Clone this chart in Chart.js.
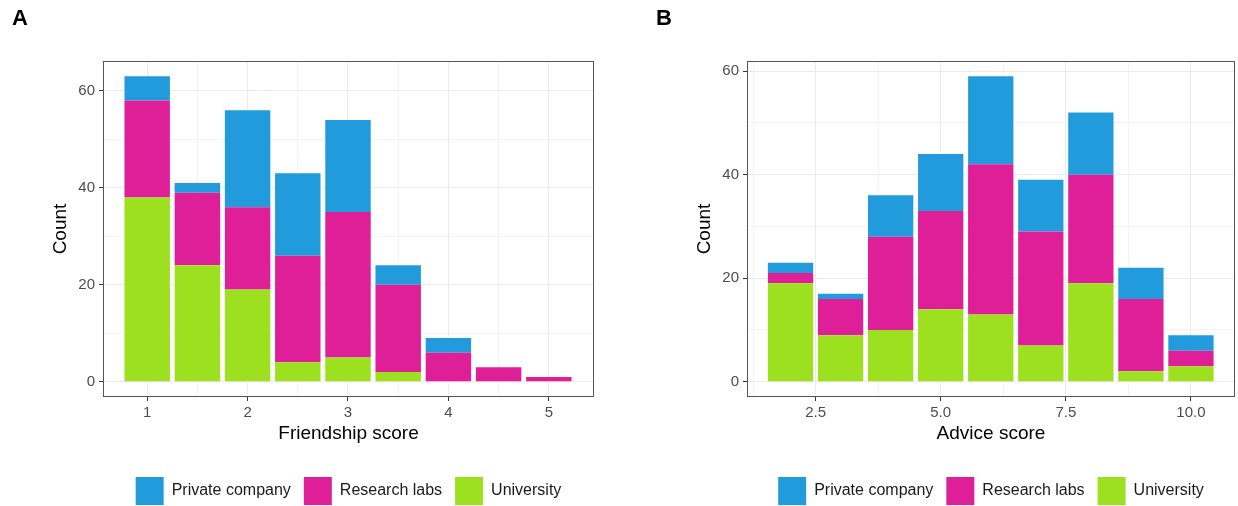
<!DOCTYPE html>
<html>
<head>
<meta charset="utf-8">
<script src="https://cdn.jsdelivr.net/npm/chart.js@4.4.0/dist/chart.umd.min.js"></script>
<style>
html, body { margin: 0; padding: 0; background: #fff; overflow: hidden; }
#quadro { position: relative; width: 1238px; height: 506px; overflow: hidden; }
canvas { position: absolute; top: 0; }
</style>
</head>
<body>
<div id="quadro">
    <canvas id="painel_a" width="619" height="515" style="left: 0px;"></canvas>
    <canvas id="painel_b" width="619" height="515" style="left: 619px;"></canvas>
</div>
<script>
var friendshipScores = [1, 1.5, 2, 2.5, 3, 3.5, 4, 4.5, 5];
var friendshipUniversity = [38, 24, 19, 4, 5, 2, 0, 0, 0];
var friendshipResearch = [20, 15, 17, 22, 30, 18, 6, 3, 1];
var friendshipPrivate = [5, 2, 20, 17, 19, 4, 3, 0, 0];

var adviceScores = [2, 3, 4, 5, 6, 7, 8, 9, 10];
var adviceUniversity = [19, 9, 10, 14, 13, 7, 19, 2, 3];
var adviceResearch = [2, 7, 18, 19, 29, 22, 21, 14, 3];
var advicePrivate = [2, 1, 8, 11, 17, 10, 12, 6, 3];

var friendshipTicks = [1, 2, 3, 4, 5];
var friendshipMinorTicks = [1.5, 2.5, 3.5, 4.5];
var adviceTicks = [2.5, 5, 7.5, 10];
var adviceMinorTicks = [1.25, 3.75, 6.25, 8.75];
var countTicks = [0, 20, 40, 60];
var countMinorTicks = [10, 30, 50];

var groups = ['University', 'Research labs', 'Private company'];
var groupColors = ['#9de01f', '#df1f97', '#229bdd'];

Chart.defaults.font.family = "'Liberation Sans', Arial, sans-serif";

function pontos(scores, valores) {
    return scores.map(function(s, i) {
        return { x: s, y: valores[i] };
    });
}

function listaTicks(maiores, menores) {
    return maiores.concat(menores).sort(function(a, b) { return a - b; }).map(function(v) {
        return { value: v };
    });
}

function ehMenor(menores, ctx) {
    return ctx.tick && menores.indexOf(ctx.tick.value) >= 0;
}

// contorno do painel, como no ggplot
var moldura = {
    id: 'moldura',
    afterDatasetsDraw: function(chart) {
        var a = chart.chartArea;
        var ctx = chart.ctx;
        ctx.save();
        ctx.strokeStyle = '#555555';
        ctx.lineWidth = 1;
        ctx.strokeRect(Math.round(a.left) + 0.5, Math.round(a.top) + 0.5,
            Math.round(a.right - a.left) - 1, Math.round(a.bottom - a.top) - 1);
        ctx.restore();
    }
};

function histograma(id, tag, tituloX, scores, series, xMaiores, xMenores, xMin, xMax, yMin, yMax, casas, padEsq, padDir) {
    return new Chart(document.getElementById(id).getContext('2d'), {
        type: 'bar',
        data: {
            datasets: series.map(function(valores, i) {
                return {
                    label: groups[i],
                    data: pontos(scores, valores),
                    backgroundColor: groupColors[i],
                    borderWidth: 0,
                    barPercentage: 0.905,
                    categoryPercentage: 1
                };
            })
        },
        plugins: [moldura],
        options: {
            responsive: false,
            animation: false,
            layout: { padding: { left: padEsq, right: padDir, top: 0, bottom: 0 } },
            plugins: {
                title: {
                    display: true,
                    text: tag,
                    align: 'start',
                    color: '#000000',
                    font: { size: 22, weight: 'bold' },
                    padding: { top: 6, bottom: 28.6 }
                },
                legend: {
                    position: 'bottom',
                    fullSize: false,
                    reverse: true,
                    labels: {
                        boxWidth: 28,
                        boxHeight: 28,
                        padding: 13,
                        color: '#1a1a1a',
                        font: { size: 16 }
                    }
                },
                tooltip: { enabled: false }
            },
            scales: {
                x: {
                    type: 'linear',
                    stacked: true,
                    offset: false,
                    min: xMin,
                    max: xMax,
                    afterBuildTicks: function(scale) {
                        scale.ticks = listaTicks(xMaiores, xMenores);
                    },
                    afterFit: function(scale) {
                        scale.height = 67;
                    },
                    border: { display: false },
                    grid: {
                        offset: false,
                        color: function(ctx) { return ehMenor(xMenores, ctx) ? '#f3f3f3' : '#ebebeb'; },
                        tickColor: function(ctx) { return ehMenor(xMenores, ctx) ? 'rgba(0,0,0,0)' : '#333333'; },
                        tickLength: 4,
                        lineWidth: 1
                    },
                    ticks: {
                        autoSkip: false,
                        maxRotation: 0,
                        padding: 3,
                        color: '#4d4d4d',
                        font: { size: 15 },
                        callback: function(v) {
                            return xMenores.indexOf(v) >= 0 ? '' : v.toFixed(casas);
                        }
                    },
                    title: {
                        display: true,
                        text: tituloX,
                        color: '#000000',
                        font: { size: 19 },
                        padding: { top: 0, bottom: 19 }
                    }
                },
                y: {
                    stacked: true,
                    min: yMin,
                    max: yMax,
                    afterBuildTicks: function(scale) {
                        scale.ticks = listaTicks(countTicks, countMinorTicks);
                    },
                    afterFit: function(scale) {
                        scale.width = 91;
                    },
                    border: { display: false },
                    grid: {
                        color: function(ctx) { return ehMenor(countMinorTicks, ctx) ? '#f3f3f3' : '#ebebeb'; },
                        tickColor: function(ctx) { return ehMenor(countMinorTicks, ctx) ? 'rgba(0,0,0,0)' : '#333333'; },
                        tickLength: 4,
                        lineWidth: 1
                    },
                    ticks: {
                        autoSkip: false,
                        padding: 4,
                        color: '#4d4d4d',
                        font: { size: 15 },
                        callback: function(v) {
                            return countMinorTicks.indexOf(v) >= 0 ? '' : String(v);
                        }
                    },
                    title: {
                        display: true,
                        text: 'Count',
                        color: '#000000',
                        font: { size: 19 },
                        padding: { top: 37, bottom: 0 }
                    }
                }
            }
        }
    });
}

var painelA = histograma('painel_a', 'A', 'Friendship score', friendshipScores,
    [friendshipUniversity, friendshipResearch, friendshipPrivate],
    friendshipTicks, friendshipMinorTicks, 0.56, 5.45, -3.15, 66.15, 0, 12, 25);

var painelB = histograma('painel_b', 'B', 'Advice score', adviceScores,
    [adviceUniversity, adviceResearch, advicePrivate],
    adviceTicks, adviceMinorTicks, 1.13, 10.88, -2.95, 61.95, 1, 37, 3);
</script>
</body>
</html>
